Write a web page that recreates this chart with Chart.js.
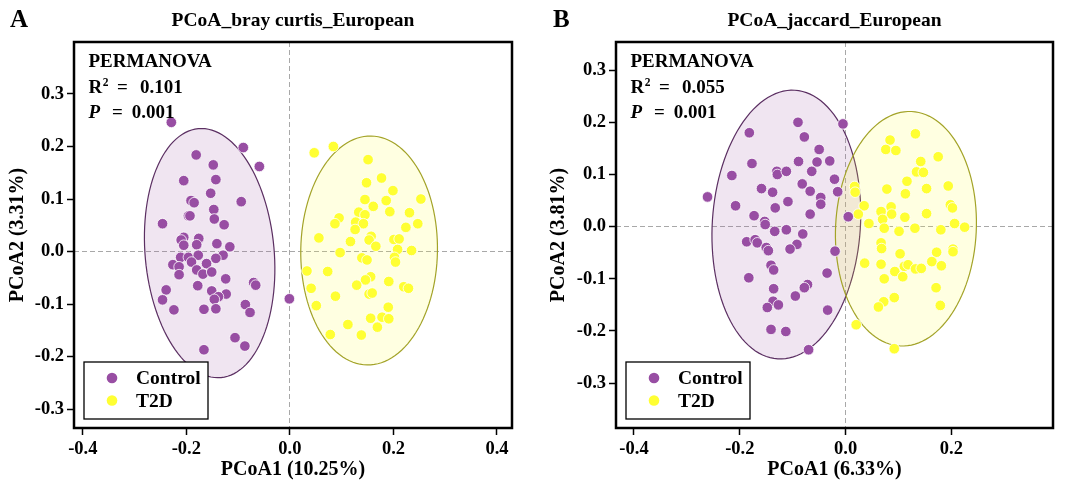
<!DOCTYPE html>
<html>
<head>
<meta charset="utf-8">
<script src="https://cdn.jsdelivr.net/npm/chart.js@4.4.1/dist/chart.umd.min.js"></script>
<style>
  html, body { margin: 0; padding: 0; background: #fff; }
  #wrap { position: relative; width: 1080px; height: 490px; }
  .panel { position: absolute; top: 0; width: 540px; height: 490px; }
</style>
</head>
<body>
<div id="wrap">
  <div class="panel" style="left:0"><canvas id="chartA" width="540" height="490"></canvas></div>
  <div class="panel" style="left:540px"><canvas id="chartB" width="540" height="490"></canvas></div>
</div>
<script>
const groups = ['Control', 'T2D'];
const groupColors = ['#984EA3', '#FFFF33'];
const edgeColors = ['#5B2F62', '#A3A328'];

const xTicksA = [-0.4, -0.2, 0, 0.2, 0.4];
const yTicksA = [-0.3, -0.2, -0.1, 0, 0.1, 0.2, 0.3];
const xTicksB = [-0.4, -0.2, 0, 0.2];
const yTicksB = [-0.3, -0.2, -0.1, 0, 0.1, 0.2, 0.3];

// PCoA scores, bray curtis
const brayControl = [
  [-0.229,0.246],[-0.090,0.198],[-0.059,0.162],[-0.181,0.184],[-0.148,0.165],[-0.205,0.135],
  [-0.143,0.137],[-0.153,0.111],[-0.191,0.097],[-0.185,0.093],[-0.094,0.095],[-0.147,0.080],
  [-0.196,0.068],[-0.193,0.068],[-0.246,0.053],[-0.146,0.062],[-0.127,0.051],[-0.205,0.027],
  [-0.210,0.022],[-0.176,0.025],[-0.205,0.012],[-0.180,0.013],[-0.141,0.015],[-0.116,0.009],
  [-0.211,-0.011],[-0.196,-0.011],[-0.177,-0.007],[-0.129,-0.007],[-0.143,-0.013],[-0.226,-0.025],
  [-0.214,-0.029],[-0.190,-0.020],[-0.161,-0.023],[-0.180,-0.035],[-0.168,-0.043],[-0.151,-0.039],
  [-0.214,-0.044],[-0.124,-0.052],[-0.178,-0.065],[-0.070,-0.059],[-0.066,-0.064],[-0.239,-0.073],
  [-0.151,-0.075],[-0.123,-0.081],[-0.138,-0.086],[-0.146,-0.091],[-0.246,-0.092],[-0.224,-0.111],
  [-0.166,-0.110],[-0.143,-0.109],[-0.086,-0.101],[-0.077,-0.116],[-0.001,-0.090],[-0.106,-0.164],
  [-0.087,-0.180],[-0.166,-0.187]
];
const brayT2D = [
  [0.047,0.188],[0.084,0.200],[0.151,0.175],[0.177,0.140],[0.148,0.131],[0.199,0.116],
  [0.253,0.100],[0.145,0.099],[0.186,0.097],[0.161,0.086],[0.133,0.075],[0.145,0.070],
  [0.193,0.076],[0.231,0.074],[0.095,0.064],[0.087,0.053],[0.127,0.056],[0.142,0.053],
  [0.126,0.042],[0.247,0.053],[0.224,0.046],[0.056,0.026],[0.117,0.019],[0.157,0.029],
  [0.153,0.022],[0.166,0.010],[0.201,0.023],[0.211,0.024],[0.208,0.004],[0.235,0.002],
  [0.097,-0.002],[0.139,-0.012],[0.149,-0.016],[0.202,-0.011],[0.204,-0.020],[0.033,-0.037],
  [0.073,-0.038],[0.156,-0.048],[0.146,-0.054],[0.191,-0.057],[0.129,-0.064],[0.220,-0.067],
  [0.229,-0.070],[0.041,-0.070],[0.088,-0.085],[0.153,-0.081],[0.159,-0.079],[0.051,-0.103],
  [0.190,-0.106],[0.156,-0.127],[0.178,-0.125],[0.191,-0.128],[0.112,-0.139],[0.169,-0.144],
  [0.078,-0.158],[0.138,-0.159]
];

// PCoA scores, jaccard
const jaccardControl = [
  [-0.261,0.057],[-0.182,0.180],[-0.090,0.200],[-0.005,0.197],[-0.078,0.172],[-0.050,0.148],
  [-0.177,0.121],[-0.089,0.125],[-0.054,0.124],[-0.030,0.126],[-0.215,0.098],[-0.130,0.106],
  [-0.129,0.100],[-0.112,0.106],[-0.064,0.106],[-0.021,0.091],[-0.159,0.073],[-0.138,0.066],
  [-0.082,0.082],[-0.067,0.068],[-0.015,0.067],[-0.208,0.040],[-0.109,0.048],[-0.047,0.056],
  [-0.047,0.043],[-0.133,0.036],[-0.173,0.021],[-0.067,0.024],[0.005,0.019],[-0.153,0.010],
  [-0.152,0.004],[-0.134,-0.009],[-0.112,-0.006],[-0.081,-0.014],[-0.187,-0.029],[-0.171,-0.025],
  [-0.167,-0.031],[-0.150,-0.040],[-0.146,-0.046],[-0.092,-0.034],[-0.105,-0.043],[-0.020,-0.047],
  [-0.141,-0.074],[-0.136,-0.083],[-0.183,-0.098],[-0.035,-0.089],[-0.072,-0.111],[-0.078,-0.117],
  [-0.136,-0.119],[-0.095,-0.133],[-0.137,-0.143],[-0.148,-0.155],[-0.127,-0.150],[-0.034,-0.160],
  [-0.141,-0.197],[-0.113,-0.201],[-0.070,-0.236]
];
const jaccardT2D = [
  [0.132,0.178],[0.084,0.166],[0.076,0.148],[0.095,0.146],[0.175,0.134],[0.142,0.125],
  [0.134,0.105],[0.147,0.104],[0.116,0.087],[0.194,0.078],[0.078,0.072],[0.153,0.073],
  [0.017,0.077],[0.018,0.066],[0.113,0.063],[0.198,0.042],[0.202,0.036],[0.035,0.040],
  [0.086,0.038],[0.067,0.029],[0.087,0.024],[0.024,0.024],[0.153,0.025],[0.070,0.014],
  [0.112,0.018],[0.044,0.006],[0.073,-0.003],[0.131,-0.003],[0.101,-0.009],[0.180,-0.006],
  [0.206,0.006],[0.225,-0.001],[0.067,-0.031],[0.068,-0.042],[0.103,-0.052],[0.172,-0.049],
  [0.203,-0.043],[0.203,-0.048],[0.036,-0.070],[0.067,-0.072],[0.163,-0.067],[0.181,-0.075],
  [0.093,-0.086],[0.111,-0.076],[0.118,-0.073],[0.132,-0.081],[0.143,-0.080],[0.108,-0.096],
  [0.073,-0.100],[0.171,-0.117],[0.179,-0.151],[0.092,-0.136],[0.072,-0.144],[0.062,-0.154],
  [0.020,-0.188],[0.092,-0.234]
];

// confidence ellipses: centre x, centre y, semi-major, semi-minor, tilt of major axis (deg)
const brayEllipses = [[-0.155, -0.003, 0.238, 0.1246, -5.3], [0.153, 0.002, 0.218, 0.132, 1.0]];
const jaccardEllipses = [[-0.112, 0.004, 0.258, 0.140, 3.6], [0.114, -0.004, 0.225, 0.133, 2.7]];

const SERIF = '"Liberation Serif", "Times New Roman", serif';
Chart.defaults.color = '#000';

const ellipsePlugin = {
  id: 'ellipses',
  beforeDatasetsDraw(chart, args, opts) {
    const { ctx, scales: { x, y } } = chart;
    ctx.save();
    opts.items.forEach((e, i) => {
      const [cx, cy, a, b, tilt] = e;
      const phi = tilt * Math.PI / 180;
      ctx.beginPath();
      for (let k = 0; k <= 120; k++) {
        const t = k / 120 * Math.PI * 2;
        const dx = a * Math.cos(t) * Math.sin(phi) + b * Math.sin(t) * Math.cos(phi);
        const dy = a * Math.cos(t) * Math.cos(phi) - b * Math.sin(t) * Math.sin(phi);
        const px = x.getPixelForValue(cx + dx), py = y.getPixelForValue(cy + dy);
        if (k === 0) ctx.moveTo(px, py); else ctx.lineTo(px, py);
      }
      ctx.closePath();
      ctx.globalAlpha = 0.15;
      ctx.fillStyle = groupColors[i];
      ctx.fill();
      ctx.globalAlpha = 1;
      ctx.lineWidth = 1.2;
      ctx.strokeStyle = edgeColors[i];
      ctx.stroke();
    });
    ctx.restore();
  }
};

const annotatePlugin = {
  id: 'annotate',
  afterDraw(chart, args, o) {
    const { ctx, chartArea: a } = chart;
    ctx.save();
    ctx.lineWidth = 2.5;
    ctx.strokeStyle = '#000';
    ctx.strokeRect(a.left, a.top, a.right - a.left, a.bottom - a.top);

    ctx.fillStyle = '#000';
    ctx.textBaseline = 'alphabetic';
    ctx.textAlign = 'center';
    ctx.font = 'bold 19.5px ' + SERIF;
    ctx.fillText(o.title, (a.left + a.right) / 2, 26);
    ctx.textAlign = 'left';
    ctx.font = 'bold 25px ' + SERIF;
    ctx.fillText(o.letter, o.letterX, 27);

    // PERMANOVA block
    const sx = a.left + 14.5;
    ctx.font = 'bold 19px ' + SERIF;
    ctx.fillText('PERMANOVA', sx, 67);
    ctx.fillText('R', sx, 93);
    ctx.fillText('=', sx + 28.5, 93);
    ctx.fillText(o.r2, sx + 51.5, 93);
    ctx.font = 'bold 11.5px ' + SERIF;
    ctx.fillText('2', sx + 14.3, 86);
    ctx.font = 'italic bold 19px ' + SERIF;
    ctx.fillText('P', sx, 118);
    ctx.font = 'bold 19px ' + SERIF;
    ctx.fillText('=', sx + 23.5, 118);
    ctx.fillText(o.p, sx + 43.3, 118);

    // legend
    const bx = a.left + 10, bw = 124, bh = 57, by = a.bottom - 9 - bh;
    ctx.fillStyle = '#fff';
    ctx.fillRect(bx, by, bw, bh);
    ctx.lineWidth = 1.3;
    ctx.strokeStyle = '#000';
    ctx.strokeRect(bx, by, bw, bh);
    ctx.textBaseline = 'middle';
    ctx.font = 'bold 19.5px ' + SERIF;
    chart.data.datasets.forEach((ds, i) => {
      const ly = by + 16 + i * 22.5;
      ctx.beginPath();
      ctx.arc(bx + 28, ly, 5.3, 0, Math.PI * 2);
      ctx.fillStyle = ds.backgroundColor;
      ctx.fill();
      ctx.fillStyle = '#000';
      ctx.fillText(ds.label, bx + 52, ly + 1);
    });
    ctx.restore();
  }
};

function axis(min, max, ticks, title, fitFn, titlePad) {
  return {
    type: 'linear',
    min: min,
    max: max,
    afterBuildTicks: s => { s.ticks = ticks.map(v => ({ value: v })); },
    afterFit: fitFn,
    ticks: {
      font: { family: SERIF, size: 18.5, weight: 'bold' },
      color: '#000',
      padding: 3,
      maxRotation: 0,
      autoSkip: false,
      callback: v => Number(v).toFixed(1)
    },
    title: {
      display: true,
      text: title,
      color: '#000',
      font: { family: SERIF, size: 20, weight: 'bold' },
      padding: titlePad
    },
    grid: {
      drawTicks: true,
      tickLength: 7,
      tickWidth: 1.5,
      tickColor: '#000',
      lineWidth: 1,
      color: c => (c.tick && c.tick.value === 0) ? '#a8a8a8' : 'rgba(0,0,0,0)'
    },
    border: { display: false, dash: [5, 3] }
  };
}

function makePanel(id, p) {
  return new Chart(document.getElementById(id), {
    type: 'scatter',
    data: {
      datasets: groups.map((g, i) => ({
        label: g,
        data: p.points[i].map(q => ({ x: q[0], y: q[1] })),
        backgroundColor: groupColors[i],
        borderColor: '#ffffff',
        borderWidth: 0.8,
        pointRadius: 5.3,
        pointHoverRadius: 5.3
      }))
    },
    options: {
      responsive: false,
      animation: false,
      layout: { padding: { left: 0, right: p.padRight, top: 42, bottom: 0 } },
      scales: {
        x: axis(p.xMin, p.xMax, p.xTicks, p.xTitle, s => { s.height = 62; }, { top: 0, bottom: 8 }),
        y: axis(p.yMin, p.yMax, p.yTicks, p.yTitle, s => { s.width = p.yWidth; }, { top: p.yTitlePad, bottom: 0 })
      },
      plugins: {
        legend: { display: false },
        tooltip: { enabled: false },
        ellipses: { items: p.ellipses },
        annotate: { title: p.title, letter: p.letter, letterX: p.letterX, r2: p.r2, p: p.pval }
      }
    },
    plugins: [ellipsePlugin, annotatePlugin]
  });
}

makePanel('chartA', {
  points: [brayControl, brayT2D], ellipses: brayEllipses,
  xMin: -0.417, xMax: 0.429, yMin: -0.336, yMax: 0.399,
  xTicks: xTicksA, yTicks: yTicksA,
  xTitle: 'PCoA1 (10.25%)', yTitle: 'PCoA2 (3.31%)',
  yWidth: 74, padRight: 28, yTitlePad: 6,
  title: 'PCoA_bray curtis_European', letter: 'A', letterX: 10,
  r2: '0.101', pval: '0.001'
});

makePanel('chartB', {
  points: [jaccardControl, jaccardT2D], ellipses: jaccardEllipses,
  xMin: -0.434, xMax: 0.392, yMin: -0.386, yMax: 0.354,
  xTicks: xTicksB, yTicks: yTicksB,
  xTitle: 'PCoA1 (6.33%)', yTitle: 'PCoA2 (3.81%)',
  yWidth: 76, padRight: 27, yTitlePad: 7,
  title: 'PCoA_jaccard_European', letter: 'B', letterX: 13,
  r2: '0.055', pval: '0.001'
});
</script>
</body>
</html>
